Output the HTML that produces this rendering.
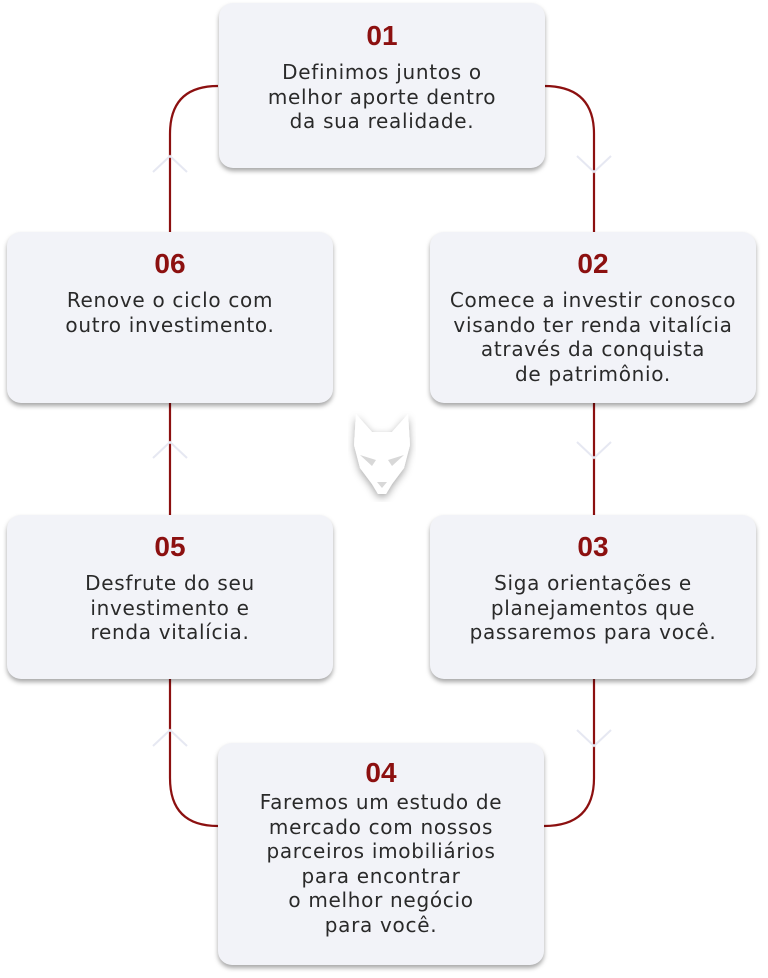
<!DOCTYPE html>
<html><head><meta charset="utf-8"><style>
body{margin:0;width:768px;height:978px;background:#fff;position:relative;overflow:hidden;font-family:"DejaVu Sans","Liberation Sans",sans-serif}
.b{position:absolute;background:#f2f3f8;border-radius:14px;box-shadow:0 3px 5px rgba(0,0,0,.35);text-align:center;color:#2a2a2a;font-size:20px;letter-spacing:0.7px;line-height:24.5px;box-sizing:border-box;white-space:nowrap}
.n{color:#8c1010;font-family:"Liberation Sans",sans-serif;letter-spacing:0;font-weight:bold;font-size:28px;line-height:30px;margin-bottom:9px}
svg{position:absolute;left:0;top:0}
</style></head><body>
<svg width="768" height="978">
<g fill="none" stroke="#8c1010" stroke-width="2.2">
<path d="M218 86 Q170 86 170 134 V232 M170 403 V515 M170 679 V778 Q170 826 218 826"/>
<path d="M544 86 Q594 86 594 134 V232 M594 403 V515 M594 679 V778 Q594 826 544 826"/>
</g>
<g fill="none" stroke="#e6e8f2" stroke-width="2">
<path d="M153 172 L170 156 L187 172"/><path d="M153 458 L170 442 L187 458"/><path d="M153 746 L170 730 L187 746"/>
<path d="M577 156 L594 172 L611 156"/><path d="M577 442 L594 458 L611 442"/><path d="M577 730 L594 746 L611 730"/>
</g>
<defs><filter id="s"><feDropShadow dx="0" dy="3" stdDeviation="4" flood-opacity=".35"/></filter></defs>
<g filter="url(#s)">
<path fill="#fff" d="M356 414 L372 432 H392 L408 414 L410 445 L404 468 L392 484 L386 494 H378 L372 484 L360 468 L354 445 Z"/>
</g>
<path fill="#d8d8d8" d="M360 455 L376 460 L372 466 Z M404 455 L388 460 L392 466 Z M377 482 H387 L382 488 Z"/>
</svg>
<div class="b" style="left:219px;top:3px;width:326px;height:165px;padding-top:18px"><div class="n">01</div>Definimos juntos o<br>melhor aporte dentro<br>da sua realidade.</div>
<div class="b" style="left:7px;top:232px;width:326px;height:171px;padding-top:17px"><div class="n">06</div>Renove o ciclo com<br>outro investimento.</div>
<div class="b" style="left:430px;top:232px;width:326px;height:171px;padding-top:17px"><div class="n">02</div>Comece a investir conosco<br>visando ter renda vitalícia<br>através da conquista<br>de patrimônio.</div>
<div class="b" style="left:7px;top:515px;width:326px;height:164px;padding-top:17px"><div class="n">05</div>Desfrute do seu<br>investimento e<br>renda vitalícia.</div>
<div class="b" style="left:430px;top:515px;width:326px;height:164px;padding-top:17px"><div class="n">03</div>Siga orientações e<br>planejamentos que<br>passaremos para você.</div>
<div class="b" style="left:218px;top:743px;width:326px;height:222px;padding-top:15px"><div class="n" style="margin-bottom:2px">04</div>Faremos um estudo de<br>mercado com nossos<br>parceiros imobiliários<br>para encontrar<br>o melhor negócio<br>para você.</div>
</body></html>
